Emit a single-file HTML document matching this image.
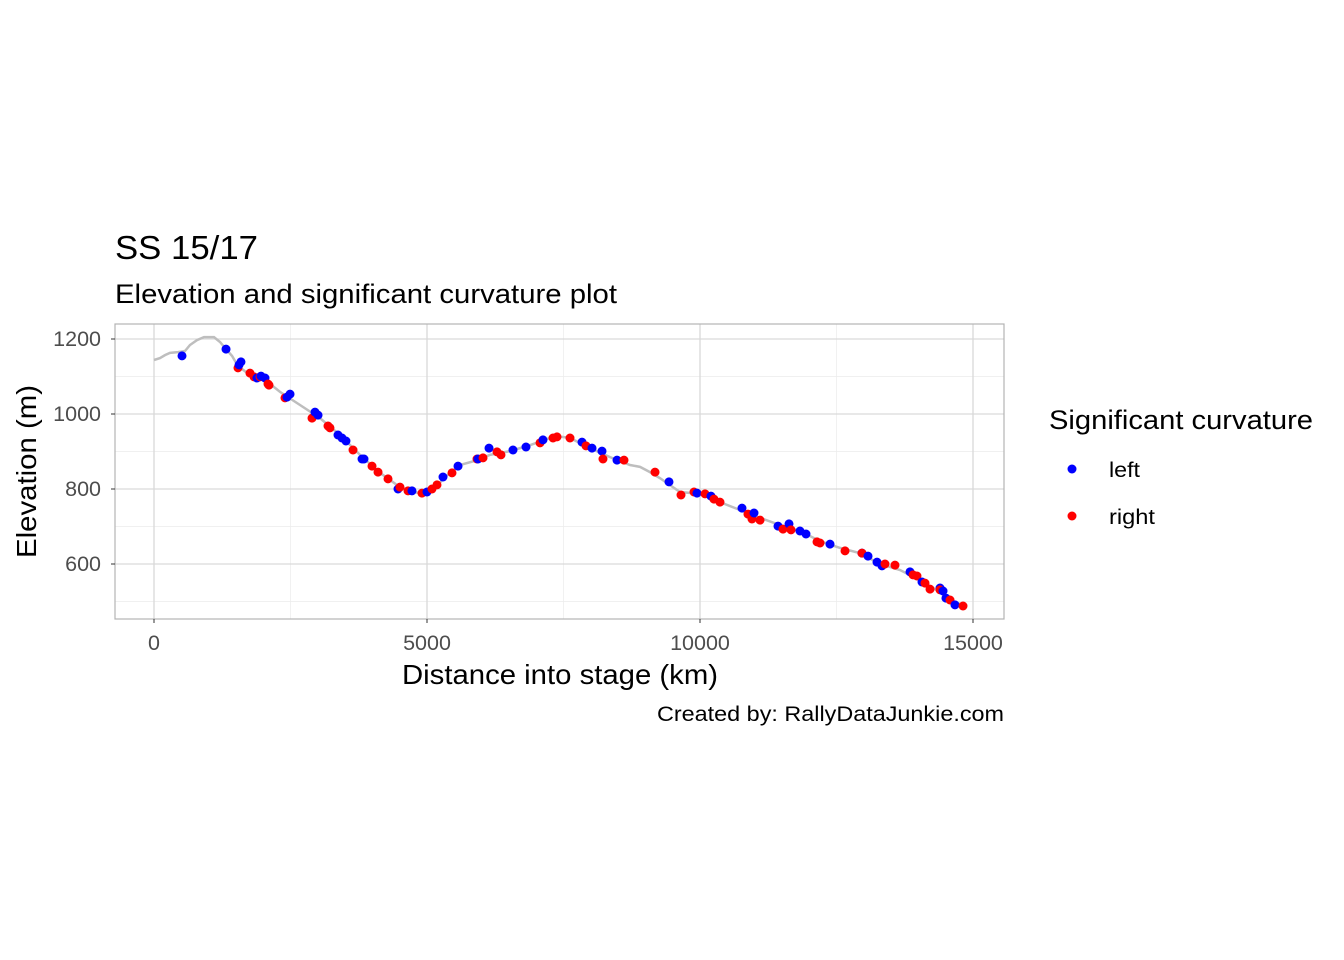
<!DOCTYPE html>
<html><head><meta charset="utf-8"><style>body{margin:0;background:#fff}svg{display:block;font-family:"Liberation Sans",Arial,sans-serif}</style></head>
<body>
<svg id="c" width="1344" height="960" viewBox="0 0 1344 960">
<rect width="1344" height="960" fill="#fff"/>
<text x="115" y="259" font-size="33" textLength="143" lengthAdjust="spacingAndGlyphs" fill="#000">SS 15/17</text>
<text x="115" y="303" font-size="27" textLength="502" lengthAdjust="spacingAndGlyphs" fill="#000">Elevation and significant curvature plot</text>
<g id="grid"></g>
<g id="line"></g>
<g id="pts"></g>
<rect x="115" y="324" width="889" height="295" fill="none" stroke="#b3b3b3" stroke-width="1.2"/>
<g id="ticks"></g>
<text x="402" y="684" font-size="28" textLength="316" lengthAdjust="spacingAndGlyphs">Distance into stage (km)</text>
<text transform="translate(36,558) rotate(-90)" font-size="28" textLength="173" lengthAdjust="spacingAndGlyphs">Elevation (m)</text>
<text x="657" y="721" font-size="21" textLength="347" lengthAdjust="spacingAndGlyphs">Created by: RallyDataJunkie.com</text>
<g>
<text x="1049" y="429" font-size="27" textLength="264" lengthAdjust="spacingAndGlyphs">Significant curvature</text>
<circle cx="1072" cy="469" r="4.5" fill="#0000ff"/>
<text x="1109" y="477" font-size="21" textLength="31" lengthAdjust="spacingAndGlyphs">left</text>
<circle cx="1072" cy="516" r="4.5" fill="#ff0000"/>
<text x="1109" y="524" font-size="21" textLength="46" lengthAdjust="spacingAndGlyphs">right</text>
</g>
</svg>
<script>
const xTicks=[0,5000,10000,15000];
const yTicks=[600,800,1000,1200];
const lineDist=[0,110,201,293,440,568,659,788,916,1099,1209,1319,1429,1538,1758,2033,2308,2674,3040,3407,3773,4139,4505,4744,4963,5110,5330,5604,5879,6154,6520,6886,7253,7381,7619,7985,8352,8718,8901,9084,9267,9633,10000,10366,10733,11099,11465,11831,12198,12564,12930,13297,13663,14029,14396,14579,14854];
const lineElev=[1144,1149,1157,1163,1165,1168,1184,1197,1205,1205,1192,1173,1155,1128,1104,1091,1059,1024,989,944,891,843,805,792,787,797,832,864,875,891,901,917,936,941,936,909,885,864,859,845,829,792,787,765,744,723,704,688,661,643,629,600,584,557,525,504,488];
const leftDist=[513,1319,1593,1557,1886,1960,2033,2436,2491,2949,3004,3370,3443,3516,3810,3846,4469,4725,5000,5293,5568,5934,6136,6575,6813,7124,7839,8022,8205,8480,9432,9945,10201,10769,10989,11429,11630,11831,11941,12381,12967,13077,13242,13333,13846,14066,14396,14451,14505,14670];
const leftElev=[1155,1173,1139,1131,1096,1101,1096,1045,1053,1005,997,944,936,928,880,880,800,795,792,832,861,880,909,904,912,931,925,909,901,877,819,789,781,749,736,701,707,688,680,653,629,621,605,595,579,552,536,528,509,491];
const rightDist=[1538,1758,1832,1941,2088,2106,2399,2894,3187,3223,3645,3993,4103,4286,4505,4652,4908,5091,5183,5458,5916,6026,6282,6355,7070,7308,7381,7619,7912,8223,8608,9176,9652,9890,10092,10256,10366,10879,10952,11099,11520,11667,12143,12198,12656,12967,13388,13571,13901,13974,14121,14213,14396,14579,14817];
const rightElev=[1123,1109,1099,1099,1080,1077,1043,989,968,963,904,861,845,827,805,795,789,800,811,843,880,883,899,891,923,936,939,936,915,880,877,845,784,792,787,773,765,733,720,717,693,691,659,656,635,629,600,597,571,568,549,533,531,504,488];
const NS='http://www.w3.org/2000/svg';
const X0=115,X1=1004,Y0=324,Y1=619;
function sx(v){return 154+v*(819/15000);}
function sy(v){return 339+(1200-v)*(225/600);}
function mk(t,a,p){const e=document.createElementNS(NS,t);for(const k in a)e.setAttribute(k,a[k]);p.appendChild(e);return e;}
const grid=document.getElementById('grid'),ticks=document.getElementById('ticks');
for(let i=0;i<xTicks.length-1;i++){const m=(xTicks[i]+xTicks[i+1])/2;const l=mk('line',{x1:sx(m),x2:sx(m),y1:Y0,y2:Y1,stroke:'#ebebeb','stroke-width':0.7},grid);

}
for(let i=0;i<yTicks.length;i++){const m=yTicks[i]-100;const l=mk('line',{x1:X0,x2:X1,y1:sy(m),y2:sy(m),stroke:'#ebebeb','stroke-width':0.7},grid);

}
xTicks.forEach(v=>{const l=mk('line',{x1:sx(v),x2:sx(v),y1:Y0,y2:Y1,stroke:'#d9d9d9','stroke-width':1.3},grid);


const tk=mk('line',{x1:sx(v),x2:sx(v),y1:Y1,y2:Y1+4,stroke:'#333','stroke-width':1},ticks);


const t=mk('text',{x:sx(v),y:650,'font-size':21.5,'text-anchor':'middle',fill:'#4d4d4d'},ticks);t.textContent=v;

});
yTicks.forEach(v=>{const l=mk('line',{x1:X0,x2:X1,y1:sy(v),y2:sy(v),stroke:'#d9d9d9','stroke-width':1.3},grid);


const tk=mk('line',{x1:X0-4,x2:X0,y1:sy(v),y2:sy(v),stroke:'#333','stroke-width':1},ticks);


const t=mk('text',{x:101,y:sy(v)+7,'font-size':21.5,'text-anchor':'end',fill:'#4d4d4d'},ticks);t.textContent=v;

});
const pl=mk('polyline',{points:lineDist.map((d,i)=>sx(d)+','+sy(lineElev[i])).join(' '),fill:'none',stroke:'#bebebe','stroke-width':2.5},document.getElementById('line'));


const pts=document.getElementById('pts');
const all=[];leftDist.forEach((d,i)=>all.push([d,leftElev[i],'#0000ff','left']));rightDist.forEach((d,i)=>all.push([d,rightElev[i],'#ff0000','right']));
all.sort((a,b)=>a[0]-b[0]);
all.forEach(p=>{const c=mk('circle',{cx:sx(p[0]),cy:sy(p[1]),r:4.5,fill:p[2]},pts);

});
</script>
</body></html>
